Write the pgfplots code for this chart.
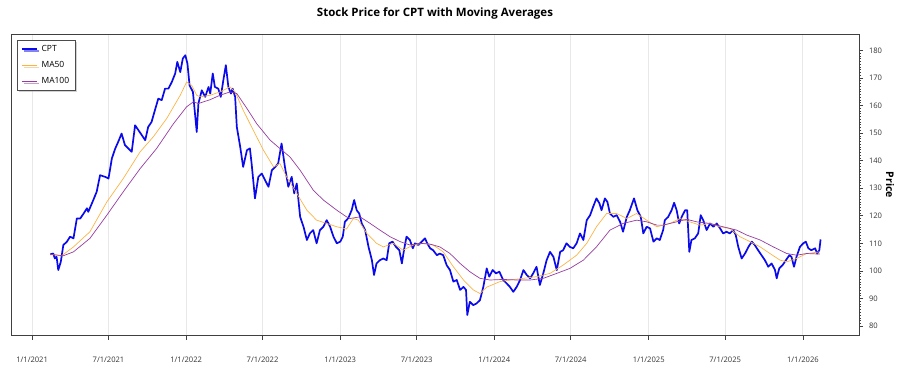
\documentclass[border=0pt]{standalone}
\usepackage{pgfplots}
\usepackage{pgfplotstable}
\pgfplotsset{compat=1.18}
\usetikzlibrary{shadows}
\usepackage{fontspec}
\setmainfont{Open Sans}

\definecolor{cptblue}{RGB}{10,10,235}
\definecolor{maorange}{RGB}{250,180,70}
\definecolor{mapurple}{RGB}{150,60,160}

% day = days since 1/1/2021
\pgfplotstableread{
day price
43 106.0
50 106.3
54 104.5
58 105.1
62 100.3
68 103.3
74 109.4
82 110.5
90 112.4
98 111.8
106 119.0
114 119.0
122 120.8
130 122.7
133 121.4
145 125.7
153 128.7
161 134.7
173 134.1
181 133.5
189 140.8
197 144.4
204 146.8
212 149.8
220 145.6
228 144.4
236 143.2
244 152.8
252 151.0
260 149.2
268 147.4
275 152.2
283 154.0
291 158.3
299 162.5
307 161.9
315 166.1
323 166.1
331 168.5
339 171.6
344 175.8
351 172.1
357 177.0
363 178.2
368 175.2
373 167.3
381 164.9
384 160.1
390 150.4
394 160.7
402 165.5
410 163.1
418 166.7
422 164.3
428 171.6
433 166.7
441 166.1
447 163.1
453 169.1
459 174.6
465 166.7
471 164.3
475 166.1
481 163.1
485 152.2
493 145.0
500 137.7
509 143.8
516 144.4
520 139.0
528 126.3
536 134.1
544 135.3
552 132.9
560 130.5
568 136.5
576 137.7
583 139.0
591 146.2
599 137.7
607 130.5
615 134.1
621 128.1
627 131.7
635 119.6
643 116.0
651 111.2
658 113.6
666 114.8
674 110.0
682 114.8
690 116.0
698 118.4
706 116.0
714 112.4
722 110.0
730 110.6
736 112.4
741 117.8
749 119.1
757 122.0
763 125.7
769 122.0
775 120.8
781 117.2
789 114.8
797 108.7
805 103.9
810 98.5
816 102.7
824 103.9
832 104.5
840 103.9
846 110.0
854 110.6
862 108.7
870 107.5
876 102.7
881 107.5
887 112.4
895 111.2
902 108.2
907 110.0
915 109.4
923 110.6
931 111.8
936 110.0
943 108.2
950 107.5
959 105.7
966 106.3
974 105.7
982 102.1
990 100.3
998 96.1
1006 96.7
1014 93.1
1022 94.2
1028 93.1
1031 84.0
1037 88.8
1045 87.6
1053 88.2
1061 89.4
1069 94.2
1077 100.9
1083 97.9
1091 100.3
1099 99.1
1107 99.7
1116 96.7
1124 95.5
1132 94.2
1140 92.4
1148 94.2
1156 96.7
1164 100.3
1172 98.5
1180 97.3
1187 99.1
1195 101.5
1203 94.9
1211 99.1
1219 103.9
1227 106.9
1235 105.1
1243 100.3
1251 106.9
1258 107.5
1266 110.0
1274 108.7
1282 108.2
1290 110.0
1298 113.6
1306 111.2
1314 118.4
1322 120.2
1329 123.2
1337 126.3
1344 124.5
1349 122.0
1357 126.3
1363 125.0
1369 120.8
1377 119.6
1385 120.2
1393 117.8
1400 114.2
1409 119.6
1416 122.0
1426 126.3
1434 122.0
1442 119.6
1448 113.6
1456 116.0
1464 115.4
1472 110.6
1480 111.8
1487 111.2
1495 114.8
1499 118.4
1507 119.6
1515 122.0
1521 124.7
1527 122.0
1533 117.2
1539 119.6
1547 122.0
1552 122.0
1557 106.9
1562 111.2
1570 111.8
1578 113.6
1584 120.2
1590 118.4
1598 114.8
1606 117.2
1614 116.0
1622 117.2
1630 115.4
1637 113.6
1645 114.2
1653 113.6
1661 114.8
1667 113.0
1673 108.7
1681 104.5
1689 106.3
1697 108.7
1705 110.6
1712 109.4
1720 107.5
1728 105.7
1736 103.9
1744 101.5
1752 102.7
1760 100.3
1764 97.3
1770 100.9
1778 102.1
1786 103.9
1794 105.7
1799 105.1
1805 101.5
1811 105.1
1819 108.7
1827 110.0
1833 110.6
1839 108.2
1846 107.5
1855 108.2
1860 106.3
1865 107.5
1868 111.4
}\cpt

\pgfplotstableread{
day price
43 106.0
70 105.5
98 108.7
137 114.2
177 125.0
216 133.5
256 143.2
287 148.6
319 155.3
351 163.7
366 168.5
378 167.3
390 163.7
398 163.1
422 163.7
445 164.9
469 166.7
481 164.9
500 158.3
524 151.0
548 143.8
572 137.7
587 139.0
603 134.1
627 128.1
651 122.0
674 118.4
698 117.2
722 116.0
745 115.2
761 119.0
773 118.4
793 113.6
816 110.0
832 108.7
856 110.0
879 107.5
903 109.4
927 110.0
950 109.4
974 106.9
998 101.5
1022 96.7
1045 93.1
1061 91.8
1077 94.1
1108 96.1
1132 96.7
1164 97.3
1195 97.9
1227 99.1
1258 102.1
1290 105.7
1314 110.0
1337 116.0
1361 120.8
1385 120.8
1409 119.0
1432 120.8
1456 118.4
1480 116.0
1511 117.2
1535 119.0
1558 117.8
1582 116.6
1606 117.2
1630 116.0
1653 115.4
1677 112.4
1701 110.6
1725 108.7
1748 106.3
1772 103.9
1788 103.3
1811 104.5
1835 106.3
1866 106.9
}\maf

\pgfplotstableread{
day price
43 106.0
74 105.5
98 106.9
137 111.8
177 120.2
216 128.7
256 137.1
295 144.4
335 153.4
366 159.5
382 161.3
394 160.7
422 162.1
445 163.7
469 164.9
485 164.3
509 158.9
532 153.4
564 147.4
587 144.4
611 141.3
635 136.5
666 129.3
690 125.7
722 122.0
745 119.6
753 119.0
777 119.6
801 117.2
824 114.8
848 112.4
872 110.6
895 109.4
919 110.0
943 109.7
966 108.7
990 106.3
1014 102.7
1037 99.7
1061 97.3
1085 96.7
1116 96.9
1148 96.7
1180 96.7
1211 97.3
1243 99.1
1274 100.9
1306 103.9
1337 108.7
1369 114.8
1400 117.2
1432 118.4
1456 117.8
1480 116.6
1495 116.6
1527 117.8
1551 118.7
1574 117.8
1606 117.2
1637 116.0
1669 114.8
1693 113.0
1725 111.2
1756 108.7
1788 106.3
1811 105.7
1835 106.3
1866 106.1
}\mah

\begin{document}
\begin{tikzpicture}
\useasboundingbox (-11pt,-39.3pt) rectangle (889pt,335.7pt);
\begin{axis}[
  name=ax,
  at={(0pt,0pt)}, anchor=south west,
  width=848pt, height=301.4pt, scale only axis,
  xmin=-50, xmax=1959, ymin=76.5, ymax=185.8,
  axis line style={draw=black!75, line width=0.8pt},
  xtick={0,181,365,546,730,911,1095,1276,1461,1642,1826},
  xticklabels={1/1/2021,7/1/2021,1/1/2022,7/1/2022,1/1/2023,7/1/2023,1/1/2024,7/1/2024,1/1/2025,7/1/2025,1/1/2026},
  ytick={80,90,...,180},
  minor y tick num=9,
  xtick pos=bottom, ytick pos=right,
  yticklabel pos=right,
  tick align=outside,
  major tick length=4pt, minor tick length=2pt,
  tick style={draw=black!75, line width=0.6pt},
  minor tick style={draw=black!75, line width=0.5pt},
  xmajorgrids, major x grid style={draw=black!9, line width=0.8pt},
  ticklabel style={font=\fontsize{7.6}{9}\selectfont, text=black!80},
  xticklabel style={yshift=-14pt},
  yticklabel style={xshift=2.5pt},
  /pgf/number format/assume math mode=true,
  legend style={at={(0.0067,0.982)}, anchor=north west, draw=black!70, line width=0.8pt, fill=white,
    drop shadow={shadow xshift=2pt, shadow yshift=-2pt, fill=black!35},
    font=\fontsize{8.5}{10}\selectfont, inner xsep=4pt, inner ysep=3.5pt, row sep=4.6pt,
    nodes={inner sep=1.8pt}},
  legend cell align=left,
  legend image code/.code={\draw[#1] (0pt,0pt) -- (15pt,0pt); \path (17pt,0pt);},
]
\addplot[color=cptblue, line width=1.7pt, line join=round] table[x=day, y=price] {\cpt};
\addlegendentry{CPT}
\addplot[color=maorange, line width=0.7pt] table[x=day, y=price] {\maf};
\addlegendentry{MA50}
\addplot[color=mapurple, line width=0.7pt] table[x=day, y=price] {\mah};
\addlegendentry{MA100}
\end{axis}
\node[font=\bfseries\fontsize{11.5}{13}\selectfont] at ([yshift=20.5pt]ax.north) {Stock Price for CPT with Moving Averages};
\node[rotate=-90, font=\bfseries\fontsize{10.5}{12}\selectfont] at ([xshift=31pt]ax.east) {Price};
\end{tikzpicture}
\end{document}
